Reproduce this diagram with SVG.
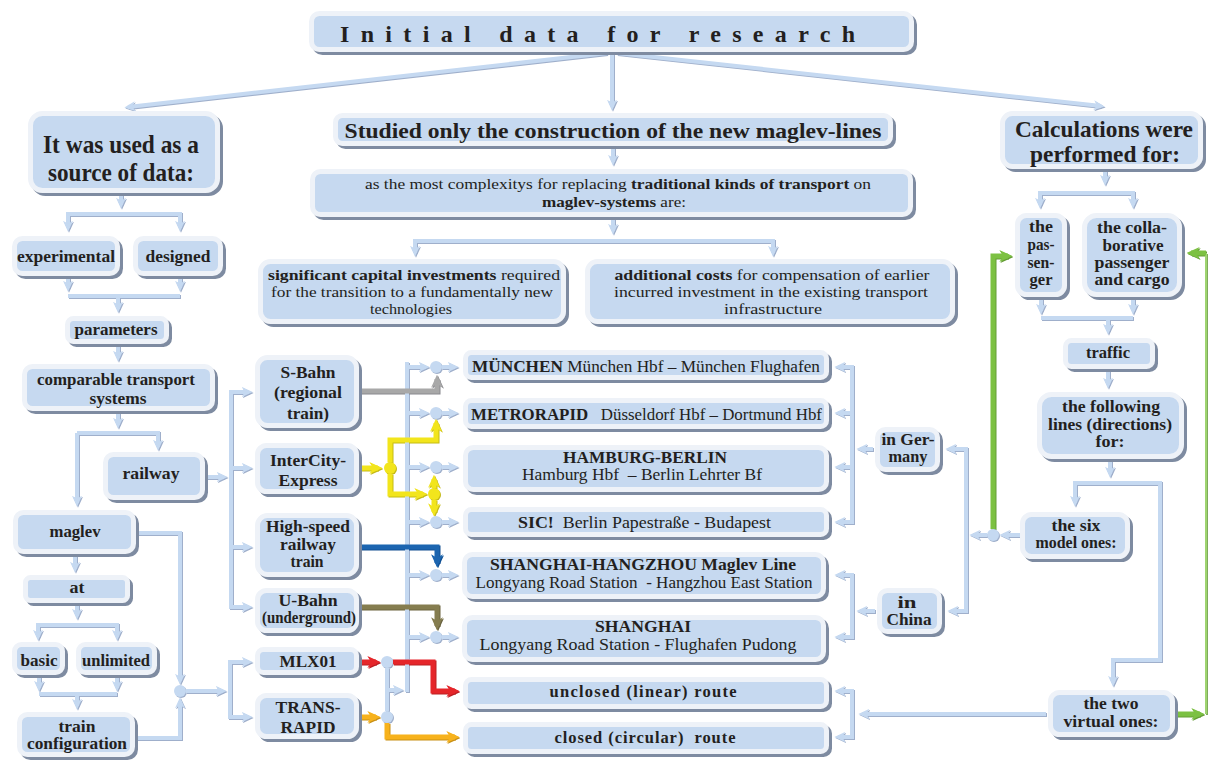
<svg xmlns="http://www.w3.org/2000/svg" width="1209" height="761" viewBox="0 0 1209 761">
  <defs>
    <style>
      .box{fill:#c6d9f0;stroke:#eef2f8;stroke-width:5;filter:url(#sh)}
      .t{font-family:"Liberation Serif","Times New Roman",serif;fill:#231f20;text-anchor:middle}
      .s{text-anchor:start}
      .b{font-weight:bold}
      .n{font-weight:normal}
      .f16{font-size:16.5px}
      .f15{font-size:15.5px}
      .f17{font-size:17px}
      .c{fill:none;stroke:#c5d9f1;stroke-width:4;marker-end:url(#mB)}
      .cs{marker-start:url(#mB)}
      .cl{fill:none;stroke:#c5d9f1;stroke-width:4}
      .dot{fill:#c5d9f1}
      .k{fill:none;stroke-width:5}
      .gray{stroke:#a8a8a8;marker-end:url(#mGr)}
      .yel{stroke:#f2e51c;marker-end:url(#mY)}
      .blu{stroke:#1b65b0;marker-end:url(#mBl)}
      .oli{stroke:#857d4f;marker-end:url(#mO)}
      .red{stroke:#e5262b;marker-end:url(#mR)}
      .ora{stroke:#f7b21c;marker-end:url(#mOr)}
      .grn{stroke:#7cc142;marker-end:url(#mG)}
    </style>
    <filter id="sh" filterUnits="userSpaceOnUse" x="0" y="0" width="1209" height="761">
      <feDropShadow dx="3" dy="3" stdDeviation="0.7" flood-color="#7e8ba1" flood-opacity="1"/>
    </filter>
    <filter id="edge" filterUnits="userSpaceOnUse" x="0" y="0" width="1209" height="761">
      <feOffset in="SourceGraphic" dx="1.3" dy="1.3" result="o"/>
      <feComponentTransfer in="o" result="d">
        <feFuncR type="linear" slope="0.62"/>
        <feFuncG type="linear" slope="0.62"/>
        <feFuncB type="linear" slope="0.68"/>
      </feComponentTransfer>
      <feMerge><feMergeNode in="d"/><feMergeNode in="SourceGraphic"/></feMerge>
    </filter>
    <marker id="mB" viewBox="0 0 12 12" refX="8" refY="6" markerWidth="11" markerHeight="11" markerUnits="userSpaceOnUse" orient="auto-start-reverse">
      <path d="M0,0.5 L12,6 L0,11.5 L3.5,6Z" fill="#c5d9f1"/>
    </marker>
    <marker id="mGr" viewBox="0 0 12 12" refX="8" refY="6" markerWidth="13" markerHeight="13" markerUnits="userSpaceOnUse" orient="auto">
      <path d="M0,0.5 L12,6 L0,11.5 L3.5,6Z" fill="#a8a8a8"/>
    </marker>
    <marker id="mY" viewBox="0 0 12 12" refX="8" refY="6" markerWidth="13" markerHeight="13" markerUnits="userSpaceOnUse" orient="auto">
      <path d="M0,0.5 L12,6 L0,11.5 L3.5,6Z" fill="#f2e51c"/>
    </marker>
    <marker id="mBl" viewBox="0 0 12 12" refX="8" refY="6" markerWidth="13" markerHeight="13" markerUnits="userSpaceOnUse" orient="auto">
      <path d="M0,0.5 L12,6 L0,11.5 L3.5,6Z" fill="#1b65b0"/>
    </marker>
    <marker id="mO" viewBox="0 0 12 12" refX="8" refY="6" markerWidth="13" markerHeight="13" markerUnits="userSpaceOnUse" orient="auto">
      <path d="M0,0.5 L12,6 L0,11.5 L3.5,6Z" fill="#857d4f"/>
    </marker>
    <marker id="mR" viewBox="0 0 12 12" refX="8" refY="6" markerWidth="13" markerHeight="13" markerUnits="userSpaceOnUse" orient="auto">
      <path d="M0,0.5 L12,6 L0,11.5 L3.5,6Z" fill="#e5262b"/>
    </marker>
    <marker id="mOr" viewBox="0 0 12 12" refX="8" refY="6" markerWidth="13" markerHeight="13" markerUnits="userSpaceOnUse" orient="auto">
      <path d="M0,0.5 L12,6 L0,11.5 L3.5,6Z" fill="#f7b21c"/>
    </marker>
    <marker id="mG" viewBox="0 0 12 12" refX="8" refY="6" markerWidth="13" markerHeight="13" markerUnits="userSpaceOnUse" orient="auto">
      <path d="M0,0.5 L12,6 L0,11.5 L3.5,6Z" fill="#7cc142"/>
    </marker>
  </defs>

  <rect width="1209" height="761" fill="#ffffff"/>

  <!-- connectors -->
  <g id="connectors" filter="url(#edge)">
    <!-- from the title -->
    <path class="c" d="M612,52 V107"/>
    <path class="c" d="M607,53 L128,107"/>
    <path class="c" d="M617,53 L1101,106"/>
    <!-- sources column -->
    <path class="c" d="M121,190 V205"/>
    <path class="c cs" d="M68,228 V214 H180 V228"/>
    <path class="c" d="M68,274 V288"/>
    <path class="c" d="M180,274 V288"/>
    <path class="cl" d="M68,296 H180"/>
    <path class="c" d="M118,296 V309"/>
    <path class="c" d="M118,342 V358"/>
    <path class="c" d="M118,410 V425"/>
    <path class="c" d="M77,433 H158 V447"/>
    <path class="c" d="M77,433 V503"/>
    <path class="c" d="M203,477 H224"/>
    <path class="cl" d="M231,390 V609"/>
    <path class="c" d="M231,392 H249"/>
    <path class="c" d="M231,468 H249"/>
    <path class="c" d="M231,547 H249"/>
    <path class="c" d="M231,607 H249"/>
    <path class="c" d="M134,533 H180 V681"/>
    <path class="c" d="M134,738 H180 V701"/>
    <circle class="dot" cx="180" cy="691" r="6"/>
    <path class="c" d="M186,691 H223"/>
    <path class="cl" d="M230,660 V719"/>
    <path class="c" d="M230,662 H249"/>
    <path class="c" d="M230,717 H249"/>
    <path class="c" d="M75,552 V569"/>
    <path class="c" d="M77,601 V616"/>
    <path class="c cs" d="M38,637 V625 H117 V637"/>
    <path class="c" d="M39,673 V688"/>
    <path class="c" d="M117,673 V688"/>
    <path class="cl" d="M39,694 H117"/>
    <path class="c" d="M77,694 V706"/>
    <!-- middle column -->
    <path class="c" d="M613,145 V162"/>
    <path class="c" d="M613,215 V231"/>
    <path class="c cs" d="M415,253 V241 H773 V253"/>
    <!-- line bus -->
    <path class="cl" d="M407,362 V692"/>
    <path class="c" d="M407,367 H426"/><circle class="dot" cx="436" cy="367" r="6"/><path class="c" d="M442,367 H455"/>
    <path class="c" d="M407,413 H426"/><circle class="dot" cx="436" cy="413" r="6"/><path class="c" d="M442,413 H455"/>
    <path class="c" d="M407,467 H426"/><circle class="dot" cx="436" cy="467" r="6"/><path class="c" d="M442,467 H455"/>
    <path class="c" d="M407,522 H426"/><circle class="dot" cx="436" cy="522" r="6"/><path class="c" d="M442,522 H455"/>
    <path class="c" d="M407,575 H426"/><circle class="dot" cx="436" cy="575" r="6"/><path class="c" d="M442,575 H455"/>
    <path class="c" d="M407,637 H426"/><circle class="dot" cx="436" cy="637" r="6"/><path class="c" d="M442,637 H455"/>
    <path class="cl" d="M387,668 V711"/>
    <path class="c" d="M387,690 H400"/>
    <circle class="dot" cx="387" cy="662" r="6"/>
    <circle class="dot" cx="387" cy="717" r="6"/>
    <!-- country buses -->
    <path class="cl" d="M852,365 V524"/>
    <path class="c" d="M852,367 H838"/>
    <path class="c" d="M852,413 H838"/>
    <path class="c" d="M852,467 H838"/>
    <path class="c" d="M852,522 H838"/>
    <path class="c" d="M873,449 H860"/>
    <path class="cl" d="M852,573 V639"/>
    <path class="c" d="M852,575 H838"/>
    <path class="c" d="M852,637 H838"/>
    <path class="c" d="M875,611 H860"/>
    <path class="cl" d="M852,689 V739"/>
    <path class="c" d="M852,691 H838"/>
    <path class="c" d="M852,737 H838"/>
    <path class="c" d="M1046,714 H862"/>
    <path class="cl" d="M966,447 V613"/>
    <path class="c" d="M966,449 H949"/>
    <path class="c" d="M966,611 H951"/>
    <path class="c" d="M1020,535 H1003"/>
    <circle class="dot" cx="993" cy="535" r="6"/>
    <path class="c" d="M987,535 H973"/>
    <!-- calculations column -->
    <path class="c" d="M1105,167 V182"/>
    <path class="c cs" d="M1040,205 V193 H1133 V205"/>
    <path class="c" d="M1041,295 V311"/>
    <path class="c" d="M1133,295 V311"/>
    <path class="cl" d="M1041,318 H1133"/>
    <path class="c" d="M1108,318 V331"/>
    <path class="c" d="M1108,367 V385"/>
    <path class="c" d="M1110,457 V474"/>
    <path class="c cs" d="M1075,503 V483 H1160 V660 H1113 V683"/>
    <!-- coloured train routes -->
    <path class="k gray" d="M357,391 H437 V379"/>
    <path class="k yel" d="M357,468 H378"/>
    <path class="k yel" d="M390,462 V440 H436 V423"/>
    <path class="k yel" d="M390,474 V494 H423"/>
    <path class="k yel" d="M434,488 V479"/>
    <path class="k yel" d="M434,500 V512"/>
    <circle cx="390" cy="468" r="6" fill="#f2e51c"/>
    <circle cx="434" cy="494" r="6" fill="#f2e51c"/>
    <path class="k blu" d="M357,547 H437 V563"/>
    <path class="k oli" d="M357,607 H437 V626"/>
    <path class="k red" d="M357,662 H376"/>
    <path class="k red" d="M393,662 H433 V691 H455"/>
    <path class="k ora" d="M357,717 H376"/>
    <path class="k ora" d="M387,723 V737 H455"/>
    <path class="k grn" d="M993,529 V256 H1008"/>
    <path class="k grn" d="M1174,714 H1200"/>
    <path fill="none" stroke="#9fd46f" stroke-width="2" d="M1206,714 V253"/>
    <path class="k grn" d="M1206,253 H1191"/>
  </g>

  <!-- nodes -->
  <g id="n-title">
    <rect class="box" x="311.5" y="13.5" width="600" height="36" rx="8"/>
    <text class="t s b" x="340" y="42" font-size="24" textLength="515" lengthAdjust="spacing">Initial data for research</text>
  </g>
  <g id="n-sources">
    <rect class="box" x="30.5" y="113.5" width="187" height="77" rx="12"/>
    <text class="t b" x="121" y="153" font-size="26" textLength="156" lengthAdjust="spacingAndGlyphs">It was used as a</text>
    <text class="t b" x="121" y="181" font-size="26" textLength="146" lengthAdjust="spacingAndGlyphs">source of data:</text>
  </g>
  <g id="n-studied">
    <rect class="box" x="335.5" y="115.5" width="555" height="28" rx="7"/>
    <text class="t b" x="613" y="138" font-size="21" textLength="537" lengthAdjust="spacingAndGlyphs">Studied only the construction of the new maglev-lines</text>
  </g>
  <g id="n-calc">
    <rect class="box" x="1002.5" y="113.5" width="198" height="53" rx="10"/>
    <text class="t b" x="1104" y="137" font-size="23" textLength="178" lengthAdjust="spacingAndGlyphs">Calculations were</text>
    <text class="t b" x="1105" y="162" font-size="23" textLength="150" lengthAdjust="spacingAndGlyphs">performed for:</text>
  </g>
  <g id="n-complexity">
    <rect class="box" x="312.5" y="171.5" width="598" height="43" rx="8"/>
    <text class="t" x="618" y="189" font-size="15" textLength="506" lengthAdjust="spacingAndGlyphs">as the most complexitys for replacing <tspan class="b">traditional kinds of transport</tspan> on</text>
    <text class="t" x="614" y="207" font-size="15" textLength="144" lengthAdjust="spacingAndGlyphs"><tspan class="b">maglev-systems</tspan> are:</text>
  </g>
  <g id="n-capital">
    <rect class="box" x="260.5" y="261.5" width="303" height="60" rx="10"/>
    <text class="t" x="414" y="280" font-size="15.5" textLength="292" lengthAdjust="spacingAndGlyphs"><tspan class="b">significant capital investments</tspan> required</text>
    <text class="t" x="412" y="297" font-size="15.5" textLength="282" lengthAdjust="spacingAndGlyphs">for the transition to a fundamentally new</text>
    <text class="t" x="411" y="314" font-size="15.5" textLength="82" lengthAdjust="spacingAndGlyphs">technologies</text>
  </g>
  <g id="n-costs">
    <rect class="box" x="587.5" y="261.5" width="365" height="60" rx="10"/>
    <text class="t" x="772" y="280" font-size="15.5" textLength="315" lengthAdjust="spacingAndGlyphs"><tspan class="b">additional costs</tspan> for compensation of earlier</text>
    <text class="t" x="771" y="297" font-size="15.5" textLength="314" lengthAdjust="spacingAndGlyphs">incurred investment in the existing transport</text>
    <text class="t" x="773" y="314" font-size="15.5" textLength="98" lengthAdjust="spacingAndGlyphs">infrastructure</text>
  </g>
  <g id="n-experimental">
    <rect class="box" x="14.5" y="238.5" width="103" height="35" rx="8"/>
    <text class="t b f16" x="66" y="262" textLength="98" lengthAdjust="spacingAndGlyphs">experimental</text>
  </g>
  <g id="n-designed">
    <rect class="box" x="135.5" y="238.5" width="85" height="35" rx="8"/>
    <text class="t b f16" x="178" y="262" textLength="65" lengthAdjust="spacingAndGlyphs">designed</text>
  </g>
  <g id="n-parameters">
    <rect class="box" x="67.5" y="318.5" width="99" height="23" rx="6"/>
    <text class="t b f16" x="116" y="335" textLength="83" lengthAdjust="spacingAndGlyphs">parameters</text>
  </g>
  <g id="n-comparable">
    <rect class="box" x="24.5" y="366.5" width="188" height="42" rx="8"/>
    <text class="t b f16" x="116" y="385" textLength="158" lengthAdjust="spacingAndGlyphs">comparable transport</text>
    <text class="t b f16" x="118" y="404" textLength="57" lengthAdjust="spacingAndGlyphs">systems</text>
  </g>
  <g id="n-railway">
    <rect class="box" x="105.5" y="454.5" width="97" height="43" rx="8"/>
    <text class="t b f17" x="151" y="479" textLength="57" lengthAdjust="spacingAndGlyphs">railway</text>
  </g>
  <g id="n-maglev">
    <rect class="box" x="15.5" y="512.5" width="118" height="39" rx="8"/>
    <text class="t b f16" x="75" y="537" textLength="51" lengthAdjust="spacingAndGlyphs">maglev</text>
  </g>
  <g id="n-at">
    <rect class="box" x="25.5" y="577.5" width="102" height="23" rx="5"/>
    <text class="t b f16" x="77" y="593" textLength="15" lengthAdjust="spacingAndGlyphs">at</text>
  </g>
  <g id="n-basic">
    <rect class="box" x="14.5" y="644.5" width="48" height="28" rx="7"/>
    <text class="t b f16" x="39" y="666" textLength="37" lengthAdjust="spacingAndGlyphs">basic</text>
  </g>
  <g id="n-unlimited">
    <rect class="box" x="78.5" y="644.5" width="76" height="28" rx="7"/>
    <text class="t b f16" x="116" y="666" textLength="68" lengthAdjust="spacingAndGlyphs">unlimited</text>
  </g>
  <g id="n-configuration">
    <rect class="box" x="19.5" y="714.5" width="113" height="40" rx="8"/>
    <text class="t b f16" x="77" y="732" textLength="37" lengthAdjust="spacingAndGlyphs">train</text>
    <text class="t b f16" x="77" y="749" textLength="100" lengthAdjust="spacingAndGlyphs">configuration</text>
  </g>
  <g id="n-sbahn">
    <rect class="box" x="257.5" y="357.5" width="99" height="68" rx="10"/>
    <text class="t b f17" x="308" y="378" textLength="55" lengthAdjust="spacingAndGlyphs">S-Bahn</text>
    <text class="t b f17" x="308" y="398" textLength="68" lengthAdjust="spacingAndGlyphs">(regional</text>
    <text class="t b f17" x="308" y="419" textLength="42" lengthAdjust="spacingAndGlyphs">train)</text>
  </g>
  <g id="n-ice">
    <rect class="box" x="257.5" y="445.5" width="99" height="46" rx="9"/>
    <text class="t b f17" x="308" y="466" textLength="76" lengthAdjust="spacingAndGlyphs">InterCity-</text>
    <text class="t b f17" x="308" y="486" textLength="59" lengthAdjust="spacingAndGlyphs">Express</text>
  </g>
  <g id="n-highspeed">
    <rect class="box" x="257.5" y="515.5" width="99" height="59" rx="10"/>
    <text class="t b f17" x="308" y="532" textLength="84" lengthAdjust="spacingAndGlyphs">High-speed</text>
    <text class="t b f17" x="308" y="550" textLength="56" lengthAdjust="spacingAndGlyphs">railway</text>
    <text class="t b f17" x="307" y="567" textLength="33" lengthAdjust="spacingAndGlyphs">train</text>
  </g>
  <g id="n-ubahn">
    <rect class="box" x="257.5" y="590.5" width="99" height="40" rx="9"/>
    <text class="t b f17" x="308" y="606" textLength="59" lengthAdjust="spacingAndGlyphs">U-Bahn</text>
    <text class="t b f16" x="309" y="623" textLength="94" lengthAdjust="spacingAndGlyphs">(underground)</text>
  </g>
  <g id="n-mlx01">
    <rect class="box" x="257.5" y="649.5" width="99" height="23" rx="6"/>
    <text class="t b f17" x="308" y="667" textLength="57" lengthAdjust="spacingAndGlyphs">MLX01</text>
  </g>
  <g id="n-transrapid">
    <rect class="box" x="257.5" y="695.5" width="99" height="41" rx="9"/>
    <text class="t b f17" x="308" y="713" textLength="65" lengthAdjust="spacingAndGlyphs">TRANS-</text>
    <text class="t b f17" x="308" y="733" textLength="55" lengthAdjust="spacingAndGlyphs">RAPID</text>
  </g>
  <g id="n-muenchen">
    <rect class="box" x="465.5" y="352.5" width="361" height="25" rx="6"/>
    <text class="t s f16" x="472" y="372" textLength="348" lengthAdjust="spacingAndGlyphs"><tspan class="b">MÜNCHEN</tspan> München Hbf – München Flughafen</text>
  </g>
  <g id="n-metrorapid">
    <rect class="box" x="465.5" y="400.5" width="361" height="26" rx="6"/>
    <text class="t s f16" x="471" y="420" textLength="351" lengthAdjust="spacingAndGlyphs" xml:space="preserve"><tspan class="b">METRORAPID</tspan>   Düsseldorf Hbf – Dortmund Hbf</text>
  </g>
  <g id="n-hamburg">
    <rect class="box" x="465.5" y="447.5" width="361" height="42" rx="8"/>
    <text class="t b f16" x="645" y="463" textLength="164" lengthAdjust="spacingAndGlyphs">HAMBURG-BERLIN</text>
    <text class="t f16" x="642" y="480" textLength="240" lengthAdjust="spacingAndGlyphs" xml:space="preserve">Hamburg Hbf  – Berlin Lehrter Bf</text>
  </g>
  <g id="n-sic">
    <rect class="box" x="465.5" y="509.5" width="361" height="25" rx="6"/>
    <text class="t s f16" x="518" y="528" textLength="253" lengthAdjust="spacingAndGlyphs" xml:space="preserve"><tspan class="b">SIC!</tspan>  Berlin Papestraße - Budapest</text>
  </g>
  <g id="n-hangzhou">
    <rect class="box" x="464.5" y="554.5" width="359" height="42" rx="8"/>
    <text class="t b f16" x="643" y="570" textLength="306" lengthAdjust="spacingAndGlyphs">SHANGHAI-HANGZHOU Maglev Line</text>
    <text class="t f16" x="644" y="588" textLength="337" lengthAdjust="spacingAndGlyphs" xml:space="preserve">Longyang Road Station  - Hangzhou East Station</text>
  </g>
  <g id="n-pudong">
    <rect class="box" x="464.5" y="617.5" width="359" height="42" rx="8"/>
    <text class="t b f16" x="643" y="632" textLength="96" lengthAdjust="spacingAndGlyphs">SHANGHAI</text>
    <text class="t f16" x="638" y="650" textLength="317" lengthAdjust="spacingAndGlyphs">Longyang Road Station - Flughafen Pudong</text>
  </g>
  <g id="n-unclosed">
    <rect class="box" x="465.5" y="679.5" width="361" height="27" rx="6"/>
    <text class="t b f16" x="643" y="697" textLength="187" lengthAdjust="spacing">unclosed (linear) route</text>
  </g>
  <g id="n-closed">
    <rect class="box" x="465.5" y="724.5" width="361" height="27" rx="6"/>
    <text class="t b f16" x="645" y="743" textLength="181" lengthAdjust="spacing" xml:space="preserve">closed (circular)  route</text>
  </g>
  <g id="n-germany">
    <rect class="box" x="877.5" y="429.5" width="60" height="40" rx="8"/>
    <text class="t b f16" x="908" y="445" textLength="53" lengthAdjust="spacingAndGlyphs">in Ger-</text>
    <text class="t b f16" x="908" y="462" textLength="39" lengthAdjust="spacingAndGlyphs">many</text>
  </g>
  <g id="n-china">
    <rect class="box" x="879.5" y="590.5" width="60" height="41" rx="8"/>
    <text class="t b f16" x="907" y="608" textLength="19" lengthAdjust="spacingAndGlyphs">in</text>
    <text class="t b f16" x="909" y="625" textLength="45" lengthAdjust="spacingAndGlyphs">China</text>
  </g>
  <g id="n-passenger">
    <rect class="box" x="1017.5" y="215.5" width="47" height="79" rx="9"/>
    <text class="t b f16" x="1041" y="232" textLength="24" lengthAdjust="spacingAndGlyphs">the</text>
    <text class="t b f16" x="1041" y="250" textLength="27" lengthAdjust="spacingAndGlyphs">pas-</text>
    <text class="t b f16" x="1041" y="268" textLength="27" lengthAdjust="spacingAndGlyphs">sen-</text>
    <text class="t b f16" x="1041" y="285" textLength="23" lengthAdjust="spacingAndGlyphs">ger</text>
  </g>
  <g id="n-collaborative">
    <rect class="box" x="1084.5" y="215.5" width="95" height="79" rx="12"/>
    <text class="t b f16" x="1132" y="233" textLength="70" lengthAdjust="spacingAndGlyphs">the colla-</text>
    <text class="t b f16" x="1133" y="251" textLength="61" lengthAdjust="spacingAndGlyphs">borative</text>
    <text class="t b f16" x="1132" y="268" textLength="75" lengthAdjust="spacingAndGlyphs">passenger</text>
    <text class="t b f16" x="1132" y="285" textLength="75" lengthAdjust="spacingAndGlyphs">and cargo</text>
  </g>
  <g id="n-traffic">
    <rect class="box" x="1065.5" y="340.5" width="87" height="26" rx="6"/>
    <text class="t b f16" x="1108" y="358" textLength="44" lengthAdjust="spacingAndGlyphs">traffic</text>
  </g>
  <g id="n-following">
    <rect class="box" x="1039.5" y="394.5" width="142" height="62" rx="12"/>
    <text class="t b f16" x="1111" y="412" textLength="98" lengthAdjust="spacingAndGlyphs">the following</text>
    <text class="t b f16" x="1110" y="430" textLength="124" lengthAdjust="spacingAndGlyphs">lines (directions)</text>
    <text class="t b f16" x="1110" y="447" textLength="29" lengthAdjust="spacingAndGlyphs">for:</text>
  </g>
  <g id="n-six">
    <rect class="box" x="1022.5" y="514.5" width="105" height="42" rx="9"/>
    <text class="t b f16" x="1076" y="531" textLength="49" lengthAdjust="spacingAndGlyphs">the six</text>
    <text class="t b f16" x="1076" y="548" textLength="81" lengthAdjust="spacingAndGlyphs">model ones:</text>
  </g>
  <g id="n-two">
    <rect class="box" x="1050.5" y="692.5" width="122" height="42" rx="9"/>
    <text class="t b f16" x="1111" y="709" textLength="55" lengthAdjust="spacingAndGlyphs">the two</text>
    <text class="t b f16" x="1111" y="727" textLength="95" lengthAdjust="spacingAndGlyphs">virtual ones:</text>
  </g>
</svg>
